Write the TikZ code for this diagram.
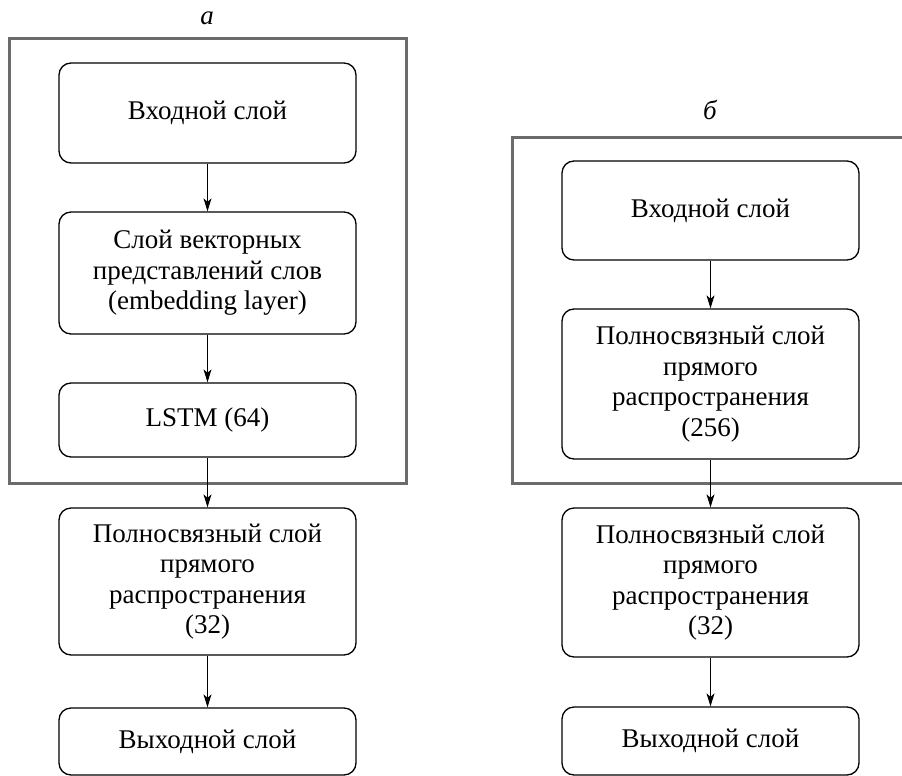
\documentclass[tikz,border=0pt]{standalone}
\usepackage{fontspec}
\setmainfont{Liberation Serif}
\usetikzlibrary{arrows.meta}
\begin{document}
\begin{tikzpicture}[x=1pt,y=-1pt,
  layer/.style={draw, rounded corners=12pt, minimum width=297pt, inner sep=0pt,
    align=center, line width=1.3pt, font=\fontsize{27}{30.5}\selectfont},
  panel/.style={draw=black!58, line width=3pt},
  flow/.style={line width=1.1pt, -{Stealth[length=13pt,width=8pt,inset=3.5pt]}},
  plabel/.style={font=\fontsize{27}{30}\selectfont\itshape}]
\useasboundingbox (0,0) rectangle (902,776);
% panel frames
\draw[panel] (9,39) rectangle (406,483);
\draw[panel] (905,137) -- (512,137) -- (512,483) -- (905,483);
\node[plabel] (la) at (207,18) {а};
\node[plabel] (lb) at (710,110) {б};
% panel a
\node[layer, minimum height=100pt] (a1) at (207.5,113) {Входной слой};
\node[layer, minimum height=122pt] (a2) at (207.5,273) {Слой векторных\\представлений слов\\(embedding layer)};
\node[layer, minimum height=74pt] (a3) at (207.5,420) {LSTM (64)};
\node[layer, minimum height=147pt] (a4) at (207.5,581.5) {Полносвязный слой\\прямого\\распространения\\(32)};
\node[layer, minimum height=67pt] (a5) at (207.5,741.5) {Выходной слой};
% panel b
\node[layer, minimum height=99pt] (b1) at (710.5,210.5) {Входной слой};
\node[layer, minimum height=150pt] (b2) at (710.5,384) {Полносвязный слой\\прямого\\распространения\\(256)};
\node[layer, minimum height=149pt] (b3) at (710.5,582.5) {Полносвязный слой\\прямого\\распространения\\(32)};
\node[layer, minimum height=68pt] (b4) at (710.5,741) {Выходной слой};
% connectors
\draw[flow] (a1) -- (a2);
\draw[flow] (a2) -- (a3);
\draw[flow] (a3) -- (a4);
\draw[flow] (a4) -- (a5);
\draw[flow] (b1) -- (b2);
\draw[flow] (b2) -- (b3);
\draw[flow] (b3) -- (b4);
\end{tikzpicture}
\end{document}
